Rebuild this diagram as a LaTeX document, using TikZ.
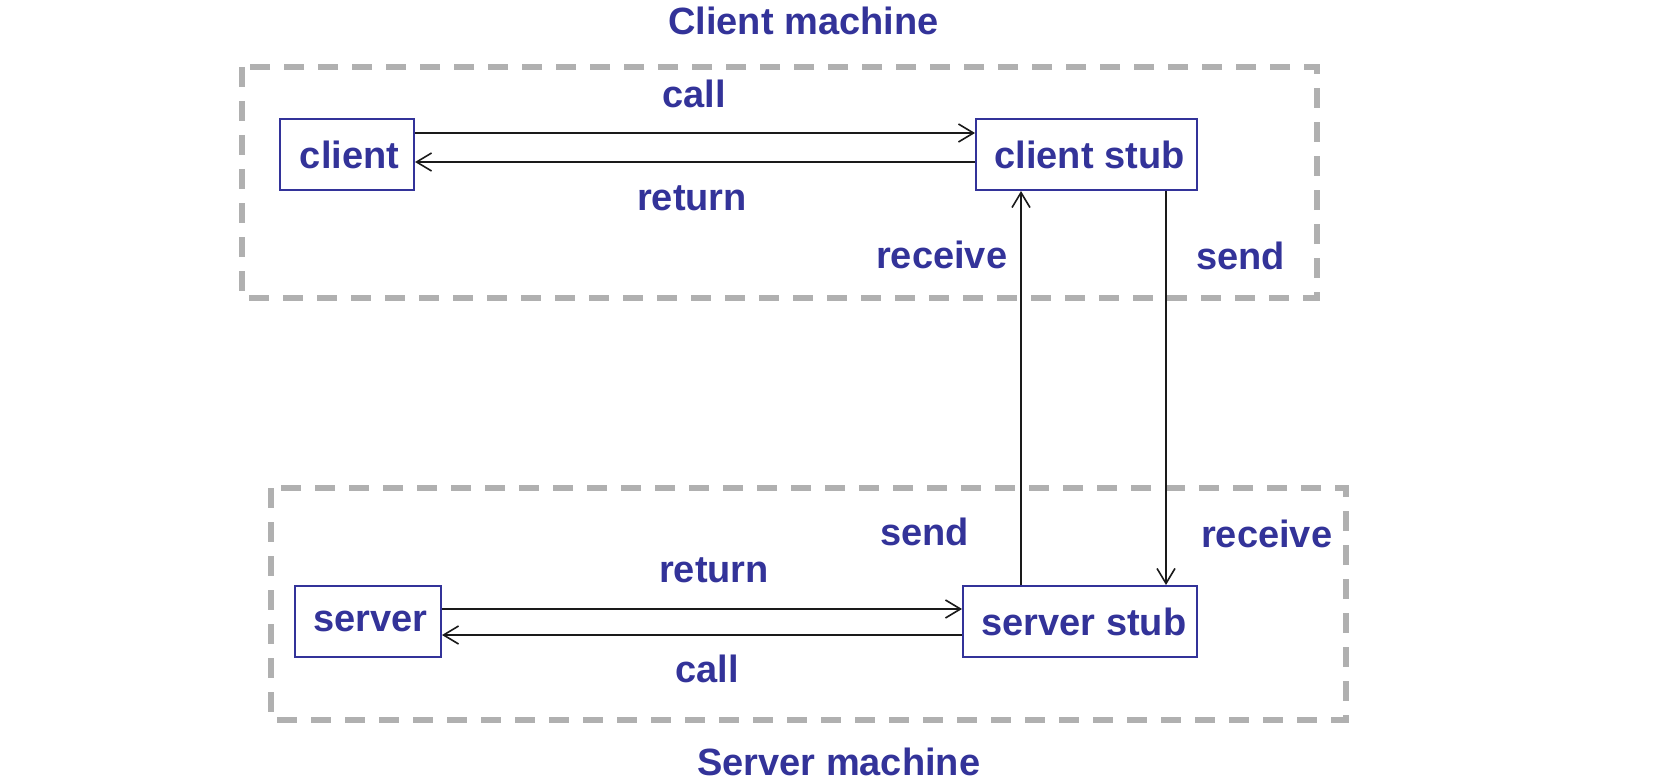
\documentclass[tikz,border=0pt]{standalone}
\usepackage{fontspec}
\setmainfont{Liberation Sans}
\usetikzlibrary{arrows.meta}
\definecolor{txtblue}{HTML}{333399}
\definecolor{dashgray}{HTML}{B0B0B0}
\definecolor{arrblack}{HTML}{1A1A1A}
\tikzset{
  lbl/.style={anchor=base west,inner sep=0pt,text=txtblue,font=\fontsize{38}{44}\selectfont\bfseries},
  procbox/.style={draw=txtblue,line width=2pt,fill=white,inner sep=0pt,minimum height=71pt,text=txtblue,font=\fontsize{38}{44}\selectfont\bfseries},
  machine/.style={draw=dashgray,line width=6.5pt,dash pattern=on 20pt off 14pt},
  arr/.style={draw=arrblack,line width=1.6pt,-{Straight Barb[length=15pt,width=18pt]}}
}
\begin{document}
\begin{tikzpicture}[x=1pt,y=-1pt]
\useasboundingbox (0,0) rectangle (1671,781);
% machine boxes
\draw[machine] (242,67) rectangle (1317,298);
\draw[machine] (271,488) rectangle (1346,720);
% titles
\node[lbl] (tclient) at (668,35) {Client machine};
\node[lbl] (tserver) at (697,775) {Server machine};
% process boxes
\node[procbox,minimum width=134pt] (client) at (347,154.5) {\hspace*{5pt}client};
\node[procbox,minimum width=221pt] (cstub) at (1086.5,154.5) {\hspace*{6pt}client stub};
\node[procbox,minimum width=146pt] (server) at (368,621.5) {\hspace*{5pt}server};
\node[procbox,minimum width=234pt] (sstub) at (1080,621.5) {\hspace*{8pt}server stub};
\coordinate (rx) at (1021,0);
\coordinate (sx) at (1166,0);
% arrows client side
\draw[arr] ([yshift=21.5pt]client.east) -- ([yshift=21.5pt]cstub.west);
\draw[arr] ([yshift=-7.5pt]cstub.west) -- ([yshift=-7.5pt]client.east);
% arrows server side
\draw[arr] ([yshift=12.5pt]server.east) -- ([yshift=12.5pt]sstub.west);
\draw[arr] ([yshift=-13.5pt]sstub.west) -- ([yshift=-13.5pt]server.east);
% vertical arrows
\draw[arr] (sstub.north -| rx) -- (cstub.south -| rx);
\draw[arr] (cstub.south -| sx) -- (sstub.north -| sx);
% labels
\node[lbl] (lcall1) at (662,108) {call};
\node[lbl] (lret1) at (637,210) {return};
\node[lbl] (lrec1) at (876,268) {receive};
\node[lbl] (lsend1) at (1196,269) {send};
\node[lbl] (lsend2) at (880,545) {send};
\node[lbl] (lrec2) at (1201,547) {receive};
\node[lbl] (lret2) at (659,582) {return};
\node[lbl] (lcall2) at (675,682) {call};
\end{tikzpicture}
\end{document}
